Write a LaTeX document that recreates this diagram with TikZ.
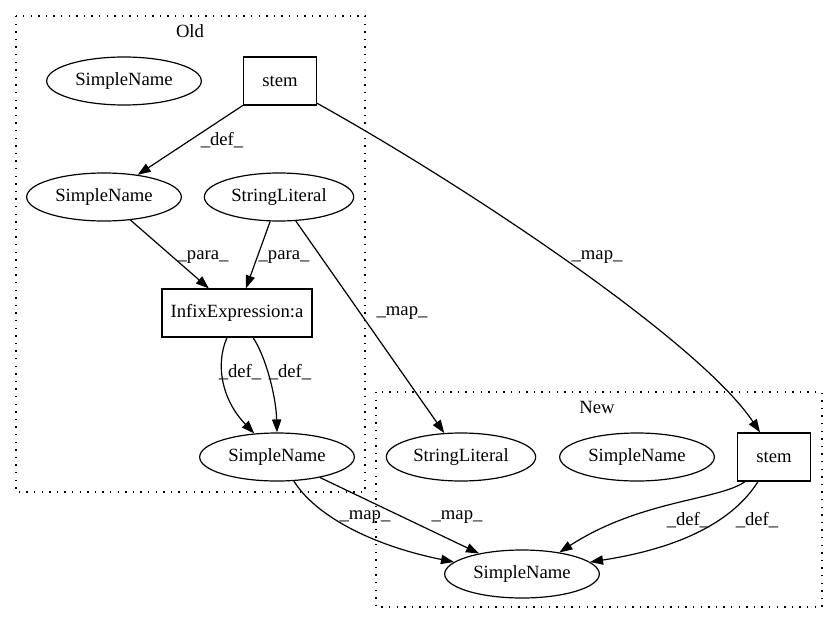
\documentclass[tikz,border=0pt]{standalone}
\usepackage{fontspec}
\setmainfont{Liberation Serif}
\usetikzlibrary{arrows.meta,shapes.geometric,calc}
\begin{document}
\begin{tikzpicture}[x=0.75pt,y=-0.75pt,
  every node/.style={font=\fontsize{14pt}{16pt}\selectfont},
  ell/.style={draw,ellipse,line width=0.9pt,inner sep=0pt,minimum width=116pt,minimum height=36pt},
  boxnode/.style={draw,rectangle,line width=0.9pt,inner sep=0pt,minimum height=36pt},
  cluster/.style={draw,line width=0.9pt,dash pattern=on 1.1pt off 4.6pt},
  edge/.style={draw,line width=0.9pt,-{Triangle[length=9.75pt,width=7pt]}},
  lbl/.style={inner sep=0pt,anchor=center}]
\useasboundingbox (0,0) rectangle (837,624);
% clusters
\draw[cluster] (16,16) rectangle (365,492);
\draw[cluster] (376,392) rectangle (822,607);
\node[lbl] (oldlbl) at (190,31) {Old};
\node[lbl] (newlbl) at (597,407) {New};
% nodes old
\node[ell] (snTop) at (124,81) {SimpleName};
\node[boxnode,minimum width=54.75pt] (stemO) at (280,81) {stem};
\node[ell] (snM) at (104,197) {SimpleName};
\node[ell,minimum width=112pt] (strO) at (279,197) {StringLiteral};
\node[boxnode,minimum width=112.5pt] (infix) at (237,313) {InfixExpression:a};
\node[ell] (snB) at (277,457) {SimpleName};
% nodes new
\node[ell,minimum width=112pt] (strN) at (461,457) {StringLiteral};
\node[ell] (snN) at (637,457) {SimpleName};
\node[boxnode,minimum width=54.75pt] (stemN) at (774,457) {stem};
\node[ell] (snNew) at (522,574) {SimpleName};
% edges
\path[edge] (stemO) -- (snM);
\path[edge] (snM) -- (infix);
\path[edge] (strO) -- (infix);
\path[edge] (strO) -- (strN);
\path[edge] (stemO.-31) .. controls (466,186) and (700,342) .. ([xshift=-10.5pt]stemN.north);
\path[edge] ([xshift=-7.5pt]infix.south) .. controls (215,365) and (222,400) .. (snB.134);
\path[edge] ([xshift=12pt]infix.south) .. controls (265,355) and (276,395) .. (snB.north);
\path[edge] (snB.-55) .. controls (315,515) and (370,545) .. (snNew.170);
\path[edge] (snB) -- (snNew);
\path[edge] ([xshift=-21.75pt]stemN.south) .. controls (720,500) and (640,500) .. (snNew.30);
\path[edge] ([xshift=-12pt]stemN.south) .. controls (740,510) and (700,545) .. (snNew.10);
% labels
\node[lbl] (l1) at (222,140) {\_def\_};
\node[lbl] (l2) at (203,257) {\_para\_};
\node[lbl] (l3) at (284,257) {\_para\_};
\node[lbl] (l4) at (402,313) {\_map\_};
\node[lbl] (l5) at (597,257) {\_map\_};
\node[lbl] (l6) at (240,372) {\_def\_};
\node[lbl] (l7) at (290,372) {\_def\_};
\node[lbl] (l8) at (365,517) {\_map\_};
\node[lbl] (l9) at (457,517) {\_map\_};
\node[lbl] (l10) at (688,520) {\_def\_};
\node[lbl] (l11) at (757,520) {\_def\_};
\end{tikzpicture}
\end{document}
